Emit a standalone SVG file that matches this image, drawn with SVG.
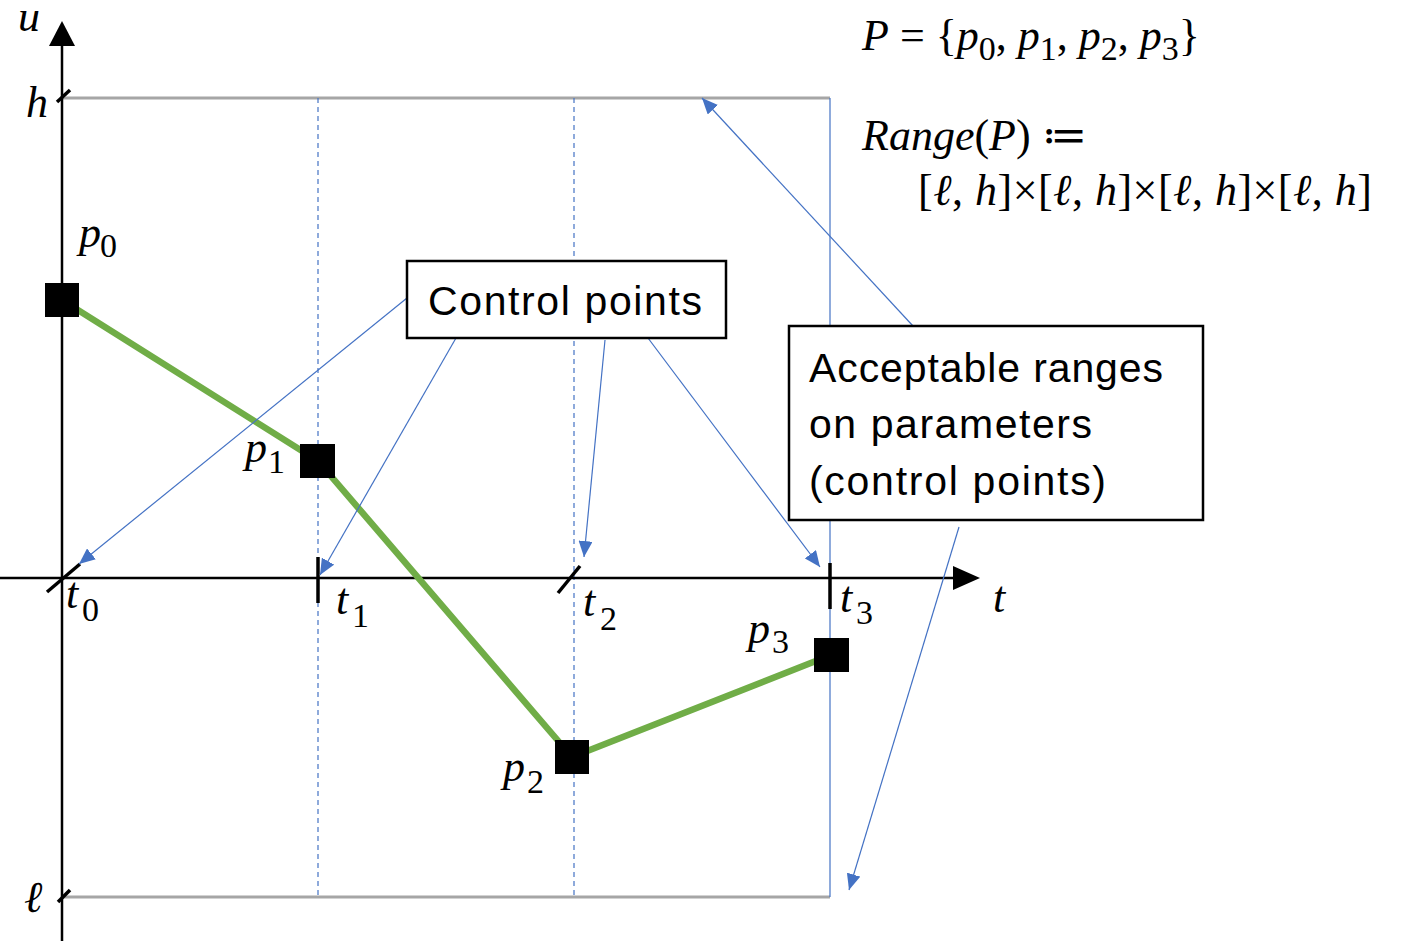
<svg xmlns="http://www.w3.org/2000/svg" width="1401" height="941" viewBox="0 0 1401 941">
<style>
.m{font-family:"Liberation Serif","DejaVu Serif",serif;font-size:44px;fill:#000}
.i{font-style:italic}
.s{font-size:34px;font-style:normal}
.lbl{font-family:"Liberation Sans","Open Sans",sans-serif;font-size:41px;fill:#000}
.box{fill:#fff;stroke:#000;stroke-width:2.5}
.ax{stroke:#000;stroke-width:2.5;fill:none}
.tk{stroke:#000;stroke-width:3.5;fill:none}
.gr{stroke:#A6A6A6;stroke-width:3;fill:none}
.dash{stroke:#4472C4;stroke-width:1.2;stroke-dasharray:5 4;fill:none}
.bl{stroke:#4472C4;stroke-width:1.2;fill:none}
.ar{stroke:#4472C4;stroke-width:1.2;fill:none;marker-end:url(#ah)}
.pt{fill:#000}
</style>
<defs>
<marker id="ah" markerUnits="userSpaceOnUse" markerWidth="18" markerHeight="14" refX="16" refY="7" orient="auto">
<path d="M0,0 L16,7 L0,14 Z" fill="#4472C4"/>
</marker>
</defs>
<rect width="1401" height="941" fill="#fff"/>

<g id="range-box">
<line class="gr" x1="62" y1="98" x2="830" y2="98"/>
<line class="gr" x1="62" y1="897" x2="830" y2="897"/>
<line class="dash" x1="318" y1="98" x2="318" y2="897"/>
<line class="dash" x1="574" y1="98" x2="574" y2="897"/>
<line class="bl" x1="830" y1="98" x2="830" y2="897"/>
</g>

<g id="axes">
<line class="ax" x1="62" y1="941" x2="62" y2="44"/>
<path d="M62,21 L49,46 L75,46 Z" fill="#000"/>
<line class="ax" x1="0" y1="578" x2="955" y2="578"/>
<path d="M980,578 L953,566 L953,590 Z" fill="#000"/>
<line class="tk" x1="57" y1="102" x2="70" y2="90"/>
<line class="tk" x1="58" y1="902" x2="70" y2="890"/>
<line class="tk" x1="47" y1="592" x2="80" y2="564"/>
<line class="tk" x1="318" y1="557" x2="318" y2="603"/>
<line class="tk" x1="558" y1="593" x2="580" y2="566"/>
<line class="tk" x1="830" y1="563" x2="830" y2="609"/>
</g>

<g id="curve">
<polyline points="62,300 318,461 572,757 831,655" fill="none" stroke="#70AD47" stroke-width="6.5" stroke-linejoin="round"/>
</g>

<g id="p0"><rect class="pt" x="45" y="283" width="34" height="34"/>
<text class="m"><tspan class="i" x="79" y="247">p</tspan><tspan class="s" x="100" y="257">0</tspan></text></g>
<g id="p1"><rect class="pt" x="300" y="444" width="35" height="34"/>
<text class="m"><tspan class="i" x="245" y="462">p</tspan><tspan class="s" x="268" y="473">1</tspan></text></g>
<g id="p2"><rect class="pt" x="555" y="740" width="34" height="34"/>
<text class="m"><tspan class="i" x="503" y="781">p</tspan><tspan class="s" x="527" y="793">2</tspan></text></g>
<g id="p3"><rect class="pt" x="814" y="638" width="35" height="34"/>
<text class="m"><tspan class="i" x="748" y="643">p</tspan><tspan class="s" x="772" y="653">3</tspan></text></g>

<g id="axis-labels">
<text class="m i" x="18" y="31">u</text>
<text class="m i" x="26" y="117">h</text>
<text class="m i" x="24" y="912">ℓ</text>
<text class="m i" x="993" y="612">t</text>
<text class="m"><tspan class="i" x="66" y="608">t</tspan><tspan class="s" x="82" y="621">0</tspan></text>
<text class="m"><tspan class="i" x="336" y="614">t</tspan><tspan class="s" x="352" y="627">1</tspan></text>
<text class="m"><tspan class="i" x="583" y="616">t</tspan><tspan class="s" x="600" y="630">2</tspan></text>
<text class="m"><tspan class="i" x="840" y="612">t</tspan><tspan class="s" x="856" y="624">3</tspan></text>
</g>

<g id="formulas">
<text class="m" x="862" y="50"><tspan class="i">P</tspan> = {<tspan class="i">p</tspan><tspan class="s" dy="10">0</tspan><tspan dy="-10">, </tspan><tspan class="i">p</tspan><tspan class="s" dy="10">1</tspan><tspan dy="-10">, </tspan><tspan class="i">p</tspan><tspan class="s" dy="10">2</tspan><tspan dy="-10">, </tspan><tspan class="i">p</tspan><tspan class="s" dy="10">3</tspan><tspan dy="-10">}</tspan></text>
<text class="m" x="862" y="150"><tspan class="i">Range</tspan>(<tspan class="i">P</tspan>) ≔</text>
<text class="m" x="918" y="205" textLength="454">[<tspan class="i">ℓ</tspan>, <tspan class="i">h</tspan>]×[<tspan class="i">ℓ</tspan>, <tspan class="i">h</tspan>]×[<tspan class="i">ℓ</tspan>, <tspan class="i">h</tspan>]×[<tspan class="i">ℓ</tspan>, <tspan class="i">h</tspan>]</text>
</g>

<g id="connectors">
<line class="ar" x1="407" y1="298" x2="79" y2="564"/>
<line class="ar" x1="456" y1="338" x2="320" y2="575"/>
<line class="ar" x1="605" y1="340" x2="584" y2="557"/>
<line class="ar" x1="648" y1="338" x2="820" y2="567"/>
<line class="ar" x1="913" y1="326" x2="702" y2="98"/>
<line class="ar" x1="959" y1="527" x2="849" y2="890"/>
</g>

<g id="control-points">
<rect class="box" x="407" y="261" width="319" height="77"/>
<text class="lbl" x="428" y="315" textLength="274">Control points</text>
</g>

<g id="acceptable">
<rect class="box" x="789" y="326" width="414" height="194"/>
<text class="lbl" x="809" y="382" textLength="354">Acceptable ranges</text>
<text class="lbl" x="809" y="438" textLength="283">on parameters</text>
<text class="lbl" x="809" y="495" textLength="297">(control points)</text>
</g>
</svg>
